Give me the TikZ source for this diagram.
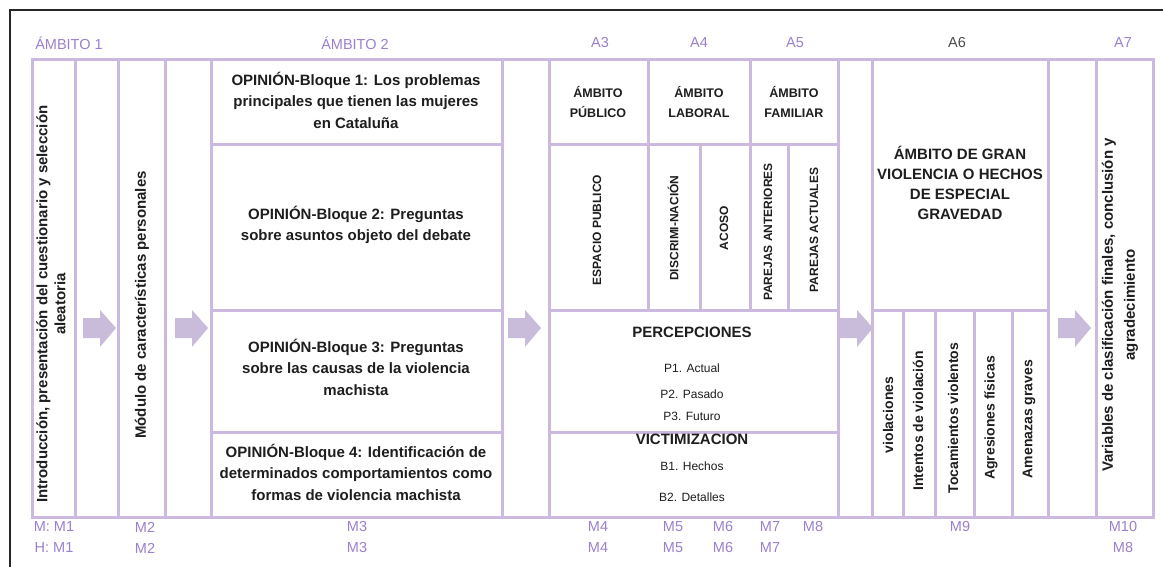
\documentclass[tikz,border=0pt]{standalone}
\usepackage{fontspec}
\setmainfont{Liberation Sans}
\definecolor{lila}{HTML}{CBB9DF}
\definecolor{lilaflecha}{HTML}{C8BCDA}
\definecolor{lilatexto}{HTML}{9C80CC}
\definecolor{tinta}{HTML}{1E1E1E}
\begin{document}
\begin{tikzpicture}[x=1pt, y=-1pt,
    linea/.style={lila, line width=3pt},
    bloque/.style={font=\bfseries\fontsize{15}{21.5}\selectfont, align=center, text=tinta, inner sep=0pt},
    cabecera/.style={font=\bfseries\fontsize{12.5}{20}\selectfont, align=center, text=tinta, inner sep=0pt},
    vertical/.style={font=\bfseries\fontsize{12}{14}\selectfont, rotate=90, text=tinta, inner sep=0pt},
    detalle/.style={font=\fontsize{12}{14}\selectfont, text=tinta, inner sep=0pt},
    etiqueta/.style={font=\fontsize{14.5}{16}\selectfont, text=lilatexto, inner sep=0pt}]
    \useasboundingbox (0,0) rectangle (1163,567);
    \fill[white] (0,0) rectangle (1163,567);
    % marco negro
    \draw[black!85, line width=1.3pt] (10,567) -- (10,10) -- (1163,10);
    % rejilla
    \draw[linea] (32,60) rectangle (1153,517);
    \foreach \x in {75, 118, 165, 211, 502, 549, 838, 872, 1048, 1096} {
            \draw[linea] (\x,60) -- (\x,517);
        }
    \foreach \y in {145, 310, 432} {
            \draw[linea] (211,\y) -- (502,\y);
        }
    \foreach \y in {145, 310, 432} {
            \draw[linea] (549,\y) -- (838,\y);
        }
    \draw[linea] (648,60) -- (648,310);
    \draw[linea] (750,60) -- (750,310);
    \draw[linea] (700,145) -- (700,310);
    \draw[linea] (788,145) -- (788,310);
    \draw[linea] (872,310) -- (1048,310);
    \foreach \x in {903, 935, 974, 1012} {
            \draw[linea] (\x,310) -- (\x,517);
        }
    % flechas
    \foreach \x in {83, 175, 508, 840, 1058} {
            \fill[lilaflecha] (\x,318) -- ++(17,0) -- ++(0,-8) -- ++(16,18)
                -- ++(-16,19) -- ++(0,-9) -- ++(-17,0) -- cycle;
        }
    % textos
    \node[vertical, font=\bfseries\fontsize{15}{18}\selectfont, align=center] (intro) at (51,304)
        {Introducción, presentación del cuestionario y selección\\aleatoria};
    \node[vertical, font=\bfseries\fontsize{15}{18}\selectfont] (modulo) at (142,305)
        {Módulo de características personales};
    \node[bloque] (bloque1) at (356,100)
        {OPINIÓN-Bloque 1: Los problemas\\principales que tienen las mujeres\\en Cataluña};
    \node[bloque] (bloque2) at (356,225)
        {OPINIÓN-Bloque 2: Preguntas\\sobre asuntos objeto del debate};
    \node[bloque] (bloque3) at (356,367)
        {OPINIÓN-Bloque 3: Preguntas\\sobre las causas de la violencia\\machista};
    \node[bloque] (bloque4) at (356,472)
        {OPINIÓN-Bloque 4: Identificación de\\determinados comportamientos como\\formas de violencia machista};
    \node[cabecera] (publico) at (598,102) {ÁMBITO\\PÚBLICO};
    \node[cabecera] (laboral) at (699,102) {ÁMBITO\\LABORAL};
    \node[cabecera] (familiar) at (794,102) {ÁMBITO\\FAMILIAR};
    \node[vertical] (espacio) at (597,230) {ESPACIO PUBLICO};
    \node[vertical] (discrim) at (673,228) {DISCRIMI-NACIÓN};
    \node[vertical] (acoso) at (724,228) {ACOSO};
    \node[vertical] (anteriores) at (768,232) {PAREJAS ANTERIORES};
    \node[vertical] (actuales) at (814,230) {PAREJAS ACTUALES};
    \node[bloque] (percep) at (692,332) {PERCEPCIONES};
    \node[detalle] (p1) at (692,368) {P1. Actual};
    \node[detalle] (p2) at (692,394) {P2. Pasado};
    \node[detalle] (p3) at (692,416) {P3. Futuro};
    \node[bloque] (victim) at (692,439) {VICTIMIZACION};
    \node[detalle] (b1) at (692,466) {B1. Hechos};
    \node[detalle] (b2) at (692,497) {B2. Detalles};
    \node[bloque, font=\bfseries\fontsize{15}{20}\selectfont] (gran) at (960,183)
        {ÁMBITO DE GRAN\\VIOLENCIA O HECHOS\\DE ESPECIAL\\GRAVEDAD};
    \foreach \x/\y/\t [count=\i] in {888/415/violaciones, 918/421/Intentos de violación,
            953/418/Tocamientos violentos, 991/418/Agresiones físicas, 1029/419/Amenazas graves} {
            \node[vertical, font=\bfseries\fontsize{14}{16}\selectfont] (hecho\i) at (\x,\y) {\t};
        }
    \node[vertical, font=\bfseries\fontsize{15}{22}\selectfont, align=center] (variables) at (1120,305)
        {Variables de clasificación finales, conclusión y\\agradecimiento};
    % etiquetas de ámbito
    \foreach \x/\t [count=\i] in {69/ÁMBITO 1, 355/ÁMBITO 2, 600/A3, 699/A4, 795/A5, 1123/A7} {
            \node[etiqueta] (ambito\i) at (\x,43) {\t};
        }
    \node[etiqueta, text=tinta!80] (ambito6) at (957,43) {A6};
    % etiquetas de módulos
    \foreach \x/\t [count=\i] in {54/M: M1, 145/M2, 357/M3, 598/M4, 673/M5, 723/M6, 770/M7,
            813/M8, 960/M9, 1123/M10} {
            \node[etiqueta] (mujer\i) at (\x,527) {\t};
        }
    \foreach \x/\t [count=\i] in {54/H: M1, 145/M2, 357/M3, 598/M4, 673/M5, 723/M6, 770/M7,
            1123/M8} {
            \node[etiqueta] (hombre\i) at (\x,548) {\t};
        }
\end{tikzpicture}
\end{document}
